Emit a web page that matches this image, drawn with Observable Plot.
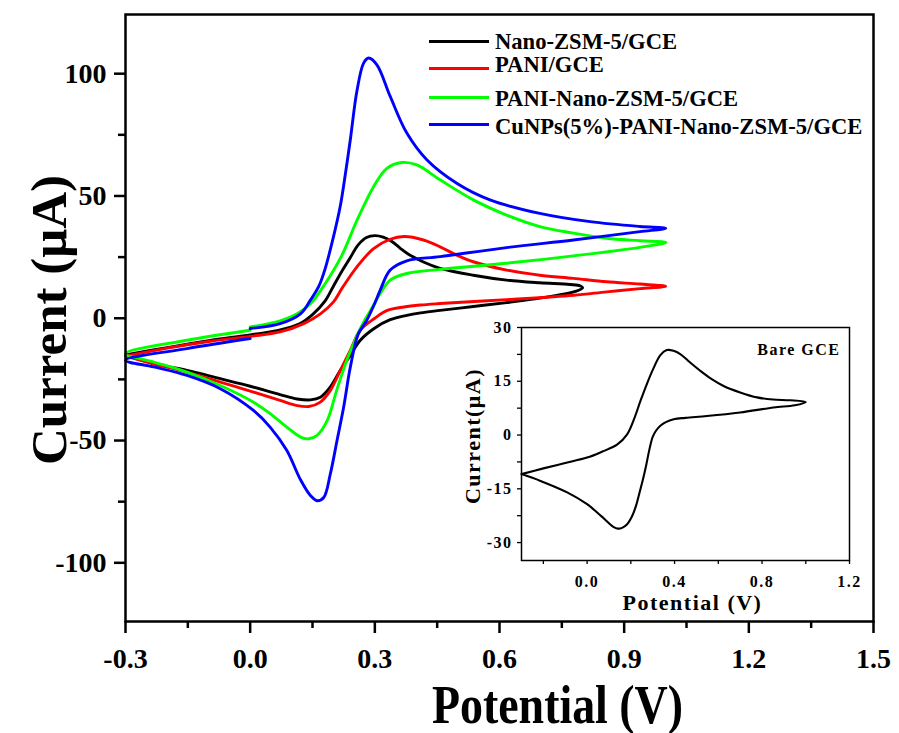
<!DOCTYPE html>
<html><head><meta charset="utf-8">
<script src="https://cdn.jsdelivr.net/npm/d3@7"></script>
<script src="https://cdn.jsdelivr.net/npm/@observablehq/plot@0.6"></script>
<style>
html,body{margin:0;padding:0;background:#fff;}
#wrap{position:relative;width:899px;height:733px;font-family:'Liberation Serif',serif;}
#inset{position:absolute;left:440px;top:310px;}
.leg{position:absolute;font:bold 22.6px/22px 'Liberation Serif',serif;white-space:nowrap;color:#000;}
.sw{position:absolute;width:60px;height:0;border-top:3px solid;}
</style></head><body><div id="wrap"></div>
<script>
// ---- axis ticks ----
const potentialTicks = [-0.3, 0, 0.3, 0.6, 0.9, 1.2, 1.5];
const potentialMinor = [-0.15, 0.15, 0.45, 0.75, 1.05, 1.35];
const currentTicks = [-100, -50, 0, 50, 100];
const currentMinor = [-75, -25, 25, 75];
const insetXTicks = [0, 0.4, 0.8, 1.2];
const insetXMinor = [-0.2, 0.2, 0.6, 1.0];
const insetYTicks = [-30, -15, 0, 15, 30];
const insetYMinor = [-22.5, -7.5, 7.5, 22.5];

// ---- series: [potential (V), current (µA)] ----
const nanoZSM5 = [[-0.3,-15],[-0.2,-12],[-0.1,-9.2],[0,-6.8],[0.07,-4.9],[0.12,-2.2],[0.15,1.5],[0.18,7],[0.2,13],[0.22,19],[0.24,24.5],[0.26,30],[0.28,33],[0.3,33.8],[0.32,33.2],[0.34,31.5],[0.36,28.8],[0.38,26.3],[0.417,23],[0.457,20.4],[0.537,17.6],[0.617,15.6],[0.697,14.5],[0.77,13.8],[0.795,13.2],[0.8,12.4],[0.785,11.1],[0.697,8.2],[0.617,6.4],[0.537,4.8],[0.457,3.2],[0.41,2.2],[0.377,1.2],[0.337,-0.6],[0.3,-4],[0.265,-9],[0.241,-15.2],[0.217,-21.3],[0.193,-28.1],[0.169,-32.3],[0.145,-33.4],[0.113,-33],[0.072,-31.2],[0,-27.8],[-0.072,-24.7],[-0.152,-21.3],[-0.232,-18.6],[-0.3,-15]];
const pani = [[-0.3,-15.5],[-0.2,-12.2],[-0.1,-9.5],[0,-7.4],[0.072,-5.6],[0.129,-2.2],[0.169,1.8],[0.2,6.6],[0.222,12.5],[0.257,21],[0.297,28.5],[0.337,32.3],[0.37,33.4],[0.417,32],[0.457,29.2],[0.497,25.8],[0.537,23.1],[0.617,19.7],[0.697,17.6],[0.778,16.3],[0.858,14.9],[0.938,14],[1.0,13.1],[0.938,12.1],[0.858,10.8],[0.778,9.4],[0.617,7.6],[0.457,6],[0.409,5.4],[0.37,4.6],[0.33,3.2],[0.3,0],[0.265,-4.9],[0.241,-13.1],[0.217,-21.3],[0.193,-29.5],[0.169,-34.3],[0.141,-36.1],[0.113,-35.7],[0.072,-33.6],[0.008,-30.2],[-0.072,-26.1],[-0.152,-22],[-0.232,-18.6],[-0.3,-15.5]];
const paniNanoZSM5 = [[0,-3.6],[0.072,-1.1],[0.113,1.8],[0.145,5.9],[0.18,14],[0.22,25.5],[0.257,40],[0.297,53.8],[0.329,61.3],[0.365,63.7],[0.401,62.7],[0.457,56.6],[0.537,48.4],[0.617,42.2],[0.697,37.5],[0.778,34.8],[0.858,32.7],[0.938,31.7],[1.0,31],[0.938,29],[0.778,25.5],[0.617,22.5],[0.457,20],[0.377,18.3],[0.337,15.6],[0.313,10.1],[0.289,3],[0.275,-1],[0.26,-6],[0.245,-12],[0.233,-17],[0.209,-29],[0.185,-42],[0.161,-47.9],[0.141,-49.3],[0.121,-48.6],[0.088,-44.5],[0.048,-39],[0.008,-34.3],[-0.072,-27.5],[-0.152,-22],[-0.232,-17.9],[-0.3,-14.5],[-0.152,-9],[0,-4.9]];
const cuNPs = [[0,-4.2],[0.072,-2.2],[0.121,1.8],[0.145,7.4],[0.165,13],[0.18,20],[0.2,33],[0.217,46],[0.23,60],[0.241,73],[0.257,93],[0.273,104.3],[0.285,106.4],[0.305,103.6],[0.337,90.7],[0.377,75.7],[0.425,64.8],[0.497,55.2],[0.577,48.4],[0.697,42.9],[0.818,39.5],[0.938,37.5],[1.0,36.8],[0.938,35.4],[0.778,32],[0.617,28.9],[0.457,25.2],[0.377,23.5],[0.337,19.7],[0.313,11.5],[0.297,5],[0.28,-1],[0.26,-6.5],[0.241,-20],[0.225,-36.3],[0.209,-50],[0.193,-63.6],[0.177,-73.3],[0.161,-74.6],[0.145,-72.5],[0.121,-66],[0.088,-54],[0.048,-44.5],[0.008,-37.7],[-0.072,-28.8],[-0.152,-23.4],[-0.232,-19.9],[-0.3,-17.2],[-0.152,-12.4],[0,-8.3]];
const bareGCE = [[-0.3,-10.9],[-0.2,-9.3],[-0.1,-7.8],[0,-6.3],[0.07,-4.6],[0.137,-2.7],[0.183,0.2],[0.215,4.5],[0.244,9.5],[0.275,14.5],[0.305,18.8],[0.335,22.3],[0.365,23.7],[0.395,23.5],[0.426,22.6],[0.47,20.3],[0.518,17.9],[0.57,15.6],[0.624,13.7],[0.7,11.9],[0.777,10.5],[0.85,9.9],[0.929,9.7],[1.0,9.2],[0.95,8.3],[0.853,7.7],[0.7,6.3],[0.548,5.3],[0.45,4.8],[0.396,4.4],[0.36,3.6],[0.335,2.6],[0.315,1.2],[0.3,-0.5],[0.285,-4],[0.27,-8.5],[0.255,-12.5],[0.24,-16],[0.225,-19.5],[0.206,-22.6],[0.183,-24.9],[0.16,-25.9],[0.14,-26.1],[0.12,-25.6],[0.1,-24.6],[0.07,-22.9],[0.046,-21.6],[0,-19.3],[-0.091,-16],[-0.213,-12.8],[-0.3,-10.9]];

const seriesNames = ["Nano-ZSM-5/GCE", "PANI/GCE", "PANI-Nano-ZSM-5/GCE", "CuNPs(5%)-PANI-Nano-ZSM-5/GCE"];
const seriesColors = ["#000000", "#ff0000", "#00ff00", "#0000ff"];
const seriesData = [nanoZSM5, pani, paniNanoZSM5, cuNPs];

const font = "'Liberation Serif', 'Times New Roman', serif";
const wrap = document.getElementById("wrap");

const main = Plot.plot({
  width: 899, height: 733,
  marginLeft: 125, marginRight: 26, marginTop: 14, marginBottom: 112,
  style: {fontFamily: font, fontWeight: "bold", background: "white", color: "black", overflow: "visible"},
  x: {domain: [-0.3, 1.5]},
  y: {domain: [-124, 124.2]},
  marks: [
    ...seriesData.map((d, i) => Plot.line(d, {x: p => p[0], y: p => p[1], stroke: seriesColors[i], strokeWidth: 2.9, curve: "catmull-rom", strokeLinejoin: "round"})),
    Plot.frame({strokeWidth: 2.5}),
    Plot.axisX(potentialTicks, {tickSize: 12, tickPadding: 15, tickFormat: d => d.toFixed(1), fontSize: 28, fontWeight: "bold", fontFamily: font, strokeWidth: 2.5, label: null}),
    Plot.axisX(potentialMinor, {tickSize: 7, tickFormat: () => "", strokeWidth: 2.5, label: null}),
    Plot.axisY(currentTicks, {tickSize: 11, tickPadding: 8, tickFormat: d => String(d), fontSize: 28, fontWeight: "bold", fontFamily: font, strokeWidth: 2.5, label: null}),
    Plot.axisY(currentMinor, {tickSize: 7, tickFormat: () => "", strokeWidth: 2.5, label: null}),
    Plot.text(["Potential (V)"], {text: d => d, frameAnchor: "bottom", textAnchor: "middle", dx: 58, dy: 84, lineAnchor: "middle", fontSize: 54, fontWeight: "bold", fontFamily: font}),
    Plot.text(["Current (μA)"], {text: d => d, frameAnchor: "left", textAnchor: "middle", dx: -76, dy: 2, rotate: -90, lineAnchor: "middle", fontSize: 51, fontWeight: "bold", fontFamily: font})
  ]
});
wrap.appendChild(main);

// condense the big x label horizontally like the reference
d3.select(main).selectAll("text").filter(function() { return this.textContent === "Potential (V)"; })
  .each(function() {
    const t = this.getAttribute("transform");
    if (t) this.setAttribute("transform", t + " scale(0.85,1)");
    else {
      const x = +this.getAttribute("x") || 0, y = +this.getAttribute("y") || 0;
      this.setAttribute("x", 0); this.setAttribute("y", 0);
      this.setAttribute("transform", `translate(${x},${y}) scale(0.85,1)`);
    }
  });

const inset = Plot.plot({
  width: 430, height: 305,
  marginLeft: 81, marginRight: 21, marginTop: 17, marginBottom: 55,
  style: {fontFamily: font, fontWeight: "bold", background: "transparent", color: "black", letterSpacing: "1.5px", overflow: "visible"},
  x: {domain: [-0.3, 1.2]},
  y: {domain: [-35, 30]},
  marks: [
    Plot.line(bareGCE, {x: p => p[0], y: p => p[1], stroke: "#000", strokeWidth: 2.1, curve: "catmull-rom"}),
    Plot.frame({strokeWidth: 1.5}),
    Plot.axisX(insetXTicks, {tickSize: 4, tickPadding: 11, tickFormat: d => d.toFixed(1), fontSize: 16, fontWeight: "bold", fontFamily: font, strokeWidth: 1.3, label: null}),
    Plot.axisX(insetXMinor, {tickSize: 4, tickFormat: () => "", strokeWidth: 1.3, label: null}),
    Plot.axisY(insetYTicks, {tickSize: 4, tickPadding: 5, tickFormat: d => String(d), fontSize: 16, fontWeight: "bold", fontFamily: font, strokeWidth: 1.3, label: null}),
    Plot.axisY(insetYMinor, {tickSize: 4, tickFormat: () => "", strokeWidth: 1.3, label: null}),
    Plot.text(["Bare GCE"], {text: d => d, frameAnchor: "top-right", dx: -9, dy: 22, textAnchor: "end", lineAnchor: "middle", fontSize: 16, fontWeight: "bold", fontFamily: font}),
    Plot.text(["Potential (V)"], {text: d => d, frameAnchor: "bottom", textAnchor: "middle", dx: 7, dy: 42, lineAnchor: "middle", fontSize: 22, fontWeight: "bold", fontFamily: font}),
    Plot.text(["Current(μA)"], {text: d => d, frameAnchor: "left", textAnchor: "middle", dx: -49, dy: -8, rotate: -90, lineAnchor: "middle", fontSize: 22, fontWeight: "bold", fontFamily: font})
  ]
});
inset.id = "inset";
wrap.appendChild(inset);

// legend (inside the main frame, top right)
const legendLineY = [41, 68, 97, 124];
const legendTextY = [42, 65, 99, 127];
seriesNames.forEach((name, i) => {
  const sw = document.createElement("div");
  sw.className = "sw";
  sw.style.left = "429px";
  sw.style.top = (legendLineY[i] - 1.5) + "px";
  sw.style.borderTopColor = seriesColors[i];
  wrap.appendChild(sw);
  const tx = document.createElement("div");
  tx.className = "leg";
  tx.style.left = "495px";
  tx.style.top = (legendTextY[i] - 11) + "px";
  tx.textContent = name;
  wrap.appendChild(tx);
});
</script>
</body></html>
